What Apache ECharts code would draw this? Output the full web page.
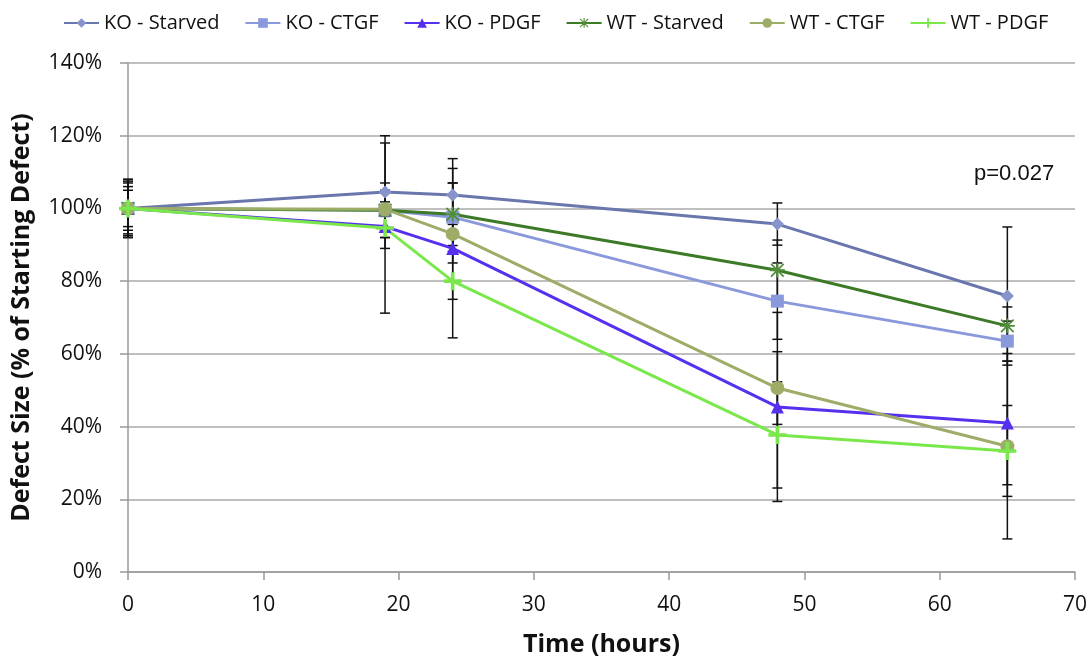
<!DOCTYPE html>
<html>
<head>
<meta charset="utf-8">
<script src="https://cdn.jsdelivr.net/npm/echarts@6/dist/echarts.min.js"></script>
<style>
  html, body { margin: 0; padding: 0; background: #fff; }
  #chart { width: 1091px; height: 665px; }
</style>
</head>
<body>
<div id="chart"></div>
<script>
// 数据
var hours = [0, 19, 24, 48, 65];
var koStarved = [100, 104.5, 103.7, 95.7, 75.9];
var koCtgf = [100, 99.5, 97.6, 74.5, 63.5];
var koPdgf = [100, 95, 89, 45.4, 41];
var wtStarved = [100, 99.5, 98.4, 83, 67.7];
var wtCtgf = [100, 99.8, 93, 50.6, 34.6];
var wtPdgf = [100, 94.6, 80, 37.7, 33.3];

// 误差 (±)
var koStarvedErr = [8, 15.5, 10, 5.8, 19];
var koCtgfErr = [7, 7.5, 9.4, 10.5, 5.5];
var koPdgfErr = [6, 3, 4, 26, 17];
var wtStarvedErr = [5, 5.5, 8.6, 8.3, 5.2];
var wtCtgfErr = [7.5, 2, 18, 10, 25.5];
var wtPdgfErr = [8, 23.4, 15.6, 14.6, 12.5];

var yTicks = [0, 20, 40, 60, 80, 100, 120, 140];

(function() {
    var myChart = echarts.init(document.getElementById("chart"));

    var plusPath = 'path://M4,0H6V4H10V6H6V10H4V6H0V4H4Z';
    var starPath = 'path://M4.4,0H5.6V4.4H10V5.6H5.6V10H4.4V5.6H0V4.4H4.4Z' +
        'M1.2,0.4L5,4.2L8.8,0.4L9.6,1.2L5.8,5L9.6,8.8L8.8,9.6L5,5.8L1.2,9.6L0.4,8.8L4.2,5L0.4,1.2Z';

    function pairs(vals) {
        return hours.map(function(h, i) { return [h, vals[i]]; });
    }

    function errData(vals, errs) {
        return hours.map(function(h, i) { return [h, vals[i] - errs[i], vals[i] + errs[i]]; });
    }

    //误差线
    function errSeries(vals, errs) {
        return {
            type: 'custom',
            silent: true,
            z: 1,
            data: errData(vals, errs),
            renderItem: function(params, api) {
                var lo = api.coord([api.value(0), api.value(1)]);
                var hi = api.coord([api.value(0), api.value(2)]);
                var w = 5;
                var st = { stroke: '#111', lineWidth: 1.5 };
                return {
                    type: 'group',
                    children: [
                        { type: 'line', shape: { x1: lo[0], y1: lo[1], x2: hi[0], y2: hi[1] }, style: st },
                        { type: 'line', shape: { x1: lo[0] - w, y1: lo[1], x2: lo[0] + w, y2: lo[1] }, style: st },
                        { type: 'line', shape: { x1: hi[0] - w, y1: hi[1], x2: hi[0] + w, y2: hi[1] }, style: st }
                    ]
                };
            }
        };
    }

    function lineSeries(name, vals, lineColor, markColor, symbol, size) {
        return {
            name: name,
            type: 'line',
            z: 3,
            data: pairs(vals),
            symbol: symbol,
            symbolSize: size,
            showAllSymbol: true,
            lineStyle: { color: lineColor, width: 3 },
            itemStyle: { color: markColor },
            emphasis: { disabled: true }
        };
    }

    var option = {
        animation: false,
        textStyle: { fontFamily: 'Open Sans, sans-serif' },
        legend: {
            top: 8,
            left: 58,
            itemWidth: 35,
            itemHeight: 12,
            itemGap: 25,
            textStyle: { fontSize: 20, color: '#111', fontFamily: 'Open Sans, sans-serif' },
            data: ['KO - Starved', 'KO - CTGF', 'KO - PDGF', 'WT - Starved', 'WT - CTGF', 'WT - PDGF']
        },
        grid: {
            left: 128,
            right: 16,
            top: 63,
            bottom: 93
        },
        xAxis: {
            type: 'value',
            min: 0,
            max: 70,
            interval: 10,
            name: 'Time (hours)',
            nameLocation: 'middle',
            nameGap: 60,
            nameTextStyle: { fontSize: 25, fontWeight: 'bold', color: '#111' },
            axisLine: { show: true, lineStyle: { color: '#999', width: 1.5 } },
            axisTick: { show: true, length: 8, lineStyle: { color: '#999', width: 1.5 } },
            axisLabel: { fontSize: 21, color: '#111', margin: 23 },
            splitLine: { show: false }
        },
        yAxis: {
            type: 'value',
            min: yTicks[0],
            max: yTicks[yTicks.length - 1],
            interval: 20,
            name: 'Defect Size (% of Starting Defect)',
            nameLocation: 'middle',
            nameGap: 94,
            nameTextStyle: { fontSize: 25, fontWeight: 'bold', color: '#111' },
            axisLine: { show: true, lineStyle: { color: '#999', width: 1.5 } },
            axisTick: { show: true, length: 8, lineStyle: { color: '#999', width: 1.5 } },
            axisLabel: { fontSize: 21, color: '#111', margin: 26, padding: [8, 0, 0, 0], formatter: '{value}%' },
            splitLine: { show: true, lineStyle: { color: '#aaa', width: 1.5 } }
        },
        graphic: [{
            type: 'text',
            left: 974,
            top: 163,
            style: { text: 'p=0.027', fontSize: 22, fill: '#111', fontFamily: 'Liberation Sans, Arial, sans-serif' }
        }],
        series: [
            errSeries(koStarved, koStarvedErr),
            errSeries(koCtgf, koCtgfErr),
            errSeries(koPdgf, koPdgfErr),
            errSeries(wtStarved, wtStarvedErr),
            errSeries(wtCtgf, wtCtgfErr),
            errSeries(wtPdgf, wtPdgfErr),
            lineSeries('KO - Starved', koStarved, '#6a76ae', '#8794cc', 'diamond', 13),
            lineSeries('KO - CTGF', koCtgf, '#8a98dc', '#8a98dc', 'rect', 13),
            lineSeries('KO - PDGF', koPdgf, '#5630ee', '#5630ee', 'triangle', 13),
            lineSeries('WT - Starved', wtStarved, '#3d7a28', '#4f8f38', starPath, 15),
            lineSeries('WT - CTGF', wtCtgf, '#9dad68', '#9dad68', 'circle', 14),
            lineSeries('WT - PDGF', wtPdgf, '#7ae84a', '#7ae84a', plusPath, 18)
        ]
    };

    myChart.setOption(option);

    window.addEventListener("resize", function() {
        myChart.resize();
    })
})();
</script>
</body>
</html>
